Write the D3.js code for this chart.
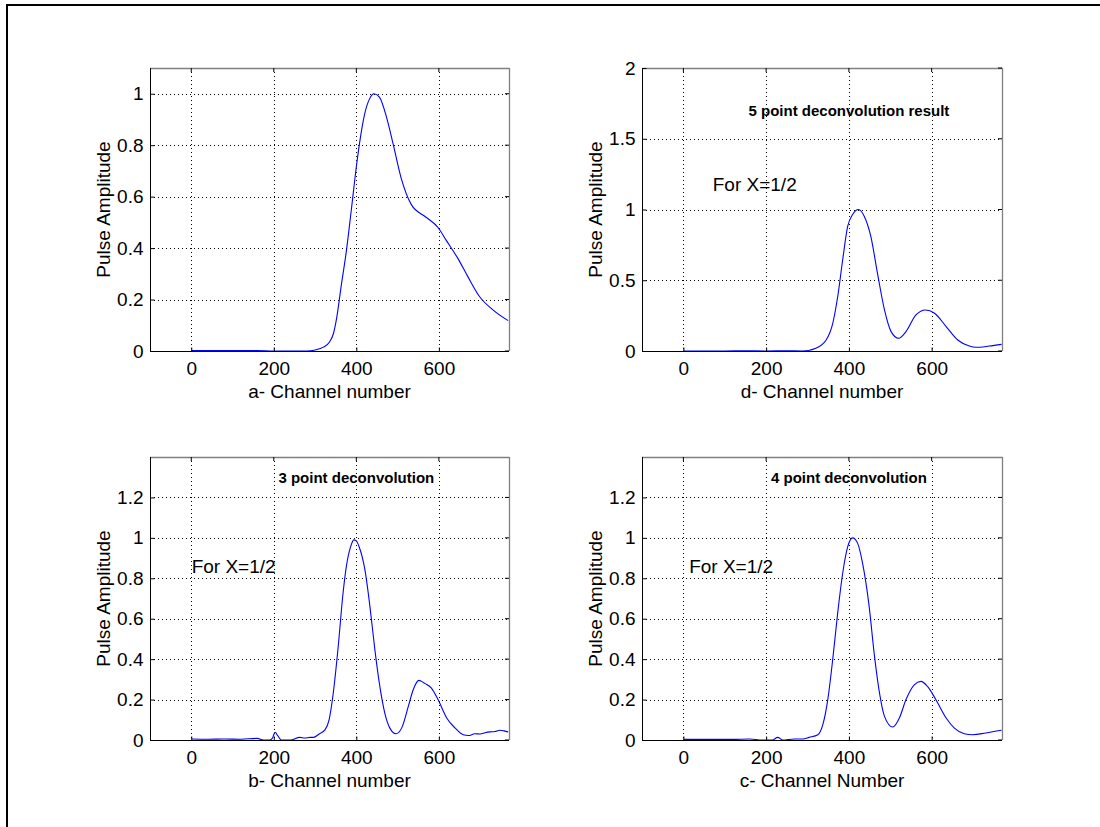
<!DOCTYPE html>
<html>
<head>
<meta charset="utf-8">
<script src="https://cdn.jsdelivr.net/npm/d3@7"></script>
<style>
  html, body { margin: 0; padding: 0; background: #fff; }
  svg { display: block; }
  text { font-family: "Liberation Sans", Arial, Helvetica, sans-serif; fill: #000; }
</style>
</head>
<body>
<svg id="chart" width="1100" height="827"></svg>
<script>
// ---------- DATA ----------
const xTicks = [0, 200, 400, 600];
const yTicksA = [0, 0.2, 0.4, 0.6, 0.8, 1];
const yTicksD = [0, 0.5, 1, 1.5, 2];
const yTicksBC = [0, 0.2, 0.4, 0.6, 0.8, 1, 1.2];

// panel a: original pulse
const chA = [0, 40, 80, 120, 160, 200, 240, 280, 300, 320, 335, 344, 352, 364, 376, 388, 400, 408, 420, 432, 443, 456, 473, 489, 509, 533, 569, 598, 618, 646, 670, 698, 731, 768];
const ampA = [0.002, 0.002, 0.002, 0.002, 0.002, 0, 0, 0, 0.004, 0.015, 0.035, 0.065, 0.125, 0.26, 0.39, 0.55, 0.715, 0.81, 0.92, 0.98, 1.0, 0.987, 0.91, 0.806, 0.67, 0.57, 0.52, 0.48, 0.43, 0.36, 0.29, 0.213, 0.16, 0.118];

// panel d: 5 point deconvolution
const chD = [0, 50, 100, 150, 200, 250, 288, 320, 345, 361, 373, 385, 397, 409, 423, 437, 453, 469, 486, 502, 520, 538, 562, 585, 607, 635, 663, 691, 707, 739, 769];
const ampD = [0, 0, 0, 0.002, 0, 0.002, 0, 0.02, 0.078, 0.196, 0.385, 0.645, 0.88, 0.965, 1.0, 0.953, 0.81, 0.55, 0.29, 0.137, 0.09, 0.137, 0.255, 0.29, 0.267, 0.173, 0.078, 0.035, 0.026, 0.035, 0.047];

// panel b: 3 point deconvolution
const chB = [0, 40, 80, 120, 160, 175, 190, 197, 203, 210, 218, 240, 263, 275, 288, 296, 310, 324, 334, 344, 356, 368, 376, 386, 394, 400, 407, 421, 433, 445, 457, 469, 481, 496, 510, 526, 538, 552, 558, 566, 582, 598, 619, 639, 659, 672, 687, 700, 712, 724, 736, 748, 758, 768];
const ampB = [0.005, 0.004, 0.005, 0.004, 0.008, 0, 0, 0.01, 0.038, 0.02, 0, 0, 0.013, 0.01, 0.013, 0.013, 0.03, 0.05, 0.1, 0.23, 0.46, 0.73, 0.86, 0.955, 0.99, 0.985, 0.955, 0.84, 0.66, 0.446, 0.265, 0.133, 0.06, 0.031, 0.06, 0.166, 0.25, 0.295, 0.29, 0.28, 0.257, 0.2, 0.109, 0.06, 0.026, 0.022, 0.031, 0.03, 0.036, 0.04, 0.042, 0.048, 0.045, 0.04];

// panel c: 4 point deconvolution
const chC = [0, 40, 80, 120, 160, 190, 215, 228, 240, 268, 288, 304, 325, 337, 349, 361, 373, 385, 397, 409, 421, 433, 449, 461, 474, 486, 506, 522, 538, 558, 574, 590, 610, 635, 655, 679, 699, 731, 769];
const ampC = [0.003, 0.003, 0.003, 0.003, 0.005, 0, 0, 0.013, 0, 0.005, 0.005, 0.013, 0.026, 0.076, 0.2, 0.4, 0.63, 0.825, 0.955, 1.0, 0.974, 0.875, 0.66, 0.43, 0.232, 0.117, 0.064, 0.109, 0.2, 0.273, 0.29, 0.265, 0.2, 0.109, 0.059, 0.031, 0.026, 0.035, 0.048];

const xLabels = ["a- Channel number", "d- Channel number", "b- Channel number", "c- Channel Number"];
const yLabel = "Pulse Amplitude";
const titles = ["", "5 point deconvolution result", "3 point deconvolution", "4 point deconvolution"];
const noteText = "For X=1/2";

// ---------- LAYOUT ----------
const svg = d3.select("#chart");
const xDomain = [-100, 770];

const panels = [
  { left: 150, top: 68, right: 509, bottom: 351, ch: chA, amp: ampA, yMax: 1.1, yTicks: yTicksA, xLabel: xLabels[0], title: titles[0], titlePos: null, notePos: null },
  { left: 642, top: 68, right: 1002, bottom: 351, ch: chD, amp: ampD, yMax: 2, yTicks: yTicksD, xLabel: xLabels[1], title: titles[1], titlePos: [400, 1.70], notePos: [71, 1.18] },
  { left: 150, top: 457, right: 509, bottom: 740, ch: chB, amp: ampB, yMax: 1.4, yTicks: yTicksBC, xLabel: xLabels[2], title: titles[2], titlePos: [400, 1.30], notePos: [1, 0.86] },
  { left: 642, top: 457, right: 1002, bottom: 740, ch: chC, amp: ampC, yMax: 1.4, yTicks: yTicksBC, xLabel: xLabels[3], title: titles[3], titlePos: [400, 1.30], notePos: [14, 0.86] }
];

// outer frame (top & left only visible)
svg.append("path")
  .attr("d", "M7,827 L7,5 L1100,5")
  .attr("fill", "none").attr("stroke", "#000").attr("stroke-width", 2);

const fmt = d3.format("~g");

panels.forEach((p, i) => {
  const x = d3.scaleLinear().domain(xDomain).range([p.left, p.right]);
  const y = d3.scaleLinear().domain([0, p.yMax]).range([p.bottom, p.top]);
  const g = svg.append("g");

  // clip
  const clipId = "clip" + i;
  svg.append("clipPath").attr("id", clipId)
    .append("rect").attr("x", p.left).attr("y", p.top - 1)
    .attr("width", p.right - p.left).attr("height", p.bottom - p.top + 1);

  // grid
  g.append("g").selectAll("line.vx").data(xTicks).join("line")
    .attr("x1", d => Math.round(x(d)) + 0.5).attr("x2", d => Math.round(x(d)) + 0.5)
    .attr("y1", p.top).attr("y2", p.bottom)
    .attr("stroke", "#000").attr("stroke-width", 1).attr("stroke-dasharray", "1,3");
  g.append("g").selectAll("line.hy").data(p.yTicks.filter(d => d > 0 && d < p.yMax)).join("line")
    .attr("x1", p.left).attr("x2", p.right)
    .attr("y1", d => Math.round(y(d)) + 0.5).attr("y2", d => Math.round(y(d)) + 0.5)
    .attr("stroke", "#000").attr("stroke-width", 1).attr("stroke-dasharray", "1,3");

  // data line
  const line = d3.line().x((d, k) => x(p.ch[k])).y((d, k) => y(p.amp[k])).curve(d3.curveMonotoneX);
  g.append("path").datum(p.amp)
    .attr("clip-path", `url(#${clipId})`)
    .attr("d", line)
    .attr("fill", "none").attr("stroke", "#0000ff").attr("stroke-width", 1.1);

  // box: top/right gray, left/bottom black
  g.append("line").attr("x1", p.left).attr("x2", p.right + 0.5).attr("y1", p.top + 0.5).attr("y2", p.top + 0.5)
    .attr("stroke", "#808080").attr("stroke-width", 1.3);
  g.append("line").attr("x1", p.right + 0.5).attr("x2", p.right + 0.5).attr("y1", p.top).attr("y2", p.bottom)
    .attr("stroke", "#808080").attr("stroke-width", 1.3);

  // axes with inward ticks
  const xAxis = d3.axisBottom(x).tickValues(xTicks).tickSizeInner(-4).tickSizeOuter(0).tickPadding(10).tickFormat(fmt);
  const gx = g.append("g").attr("transform", `translate(0,${p.bottom + 0.5})`).call(xAxis);
  gx.select(".domain").attr("d", `M${p.left},0H${p.right}`).attr("stroke", "#000");
  gx.selectAll("text").attr("font-size", 19).attr("font-family", '"Liberation Sans", Arial, sans-serif');

  const yAxis = d3.axisLeft(y).tickValues(p.yTicks).tickSizeInner(-4).tickSizeOuter(0).tickPadding(7).tickFormat(fmt);
  const gy = g.append("g").attr("transform", `translate(${p.left + 0.5},0)`).call(yAxis);
  gy.select(".domain").attr("d", `M0,${p.top}V${p.bottom}`).attr("stroke", "#000");
  gy.selectAll("text").attr("font-size", 19).attr("font-family", '"Liberation Sans", Arial, sans-serif');

  // mirrored ticks on top and right
  g.append("g").selectAll("line").data(xTicks).join("line")
    .attr("x1", d => x(d)).attr("x2", d => x(d)).attr("y1", p.top).attr("y2", p.top + 4)
    .attr("stroke", "#000");
  g.append("g").selectAll("line").data(p.yTicks).join("line")
    .attr("x1", p.right - 4).attr("x2", p.right).attr("y1", d => y(d)).attr("y2", d => y(d))
    .attr("stroke", "#000");

  // axis labels
  g.append("text").attr("x", (p.left + p.right) / 2).attr("y", p.bottom + 47)
    .attr("text-anchor", "middle").attr("font-size", 19).text(p.xLabel);
  g.append("text").attr("transform", `translate(${p.left - 40},${(p.top + p.bottom) / 2}) rotate(-90)`)
    .attr("text-anchor", "middle").attr("font-size", 19).text(yLabel);

  // annotations
  if (p.titlePos) {
    g.append("text").attr("x", x(p.titlePos[0])).attr("y", y(p.titlePos[1]))
      .attr("dy", "0.36em").attr("text-anchor", "middle")
      .attr("font-size", 15).attr("font-weight", "bold").text(p.title);
  }
  if (p.notePos) {
    g.append("text").attr("x", x(p.notePos[0])).attr("y", y(p.notePos[1]))
      .attr("dy", "0.36em").attr("text-anchor", "start")
      .attr("font-size", 19).text(noteText);
  }
});
</script>
</body>
</html>
